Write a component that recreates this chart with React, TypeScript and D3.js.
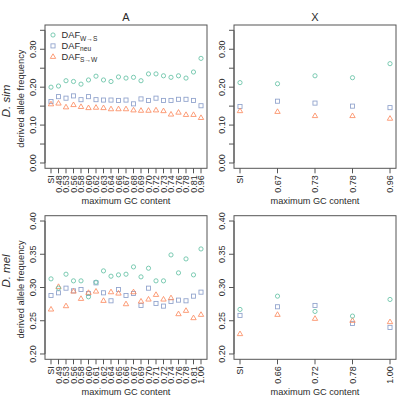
import React from "react";
import * as d3 from "d3";

// ---- D. simulans, autosomes (A)
const simACats = ["SI", "0.48", "0.53", "0.56", "0.58", "0.60", "0.62", "0.63", "0.64", "0.66", "0.67", "0.68", "0.69", "0.70", "0.72", "0.73", "0.74", "0.76", "0.78", "0.81", "0.96"];
const simAWS = [0.200, 0.203, 0.217, 0.215, 0.208, 0.219, 0.229, 0.219, 0.215, 0.227, 0.224, 0.226, 0.217, 0.235, 0.235, 0.230, 0.226, 0.230, 0.224, 0.240, 0.276];
const simANeu = [0.162, 0.175, 0.171, 0.177, 0.167, 0.175, 0.167, 0.166, 0.166, 0.165, 0.166, 0.156, 0.169, 0.165, 0.171, 0.165, 0.165, 0.168, 0.168, 0.165, 0.151];
const simASW = [0.155, 0.157, 0.147, 0.153, 0.148, 0.145, 0.146, 0.145, 0.142, 0.142, 0.142, 0.139, 0.138, 0.138, 0.139, 0.137, 0.128, 0.133, 0.127, 0.127, 0.119];

// ---- D. simulans, X chromosome
const simXCats = ["SI", "0.67", "0.73", "0.78", "0.96"];
const simXWS = [0.212, 0.209, 0.230, 0.225, 0.262];
const simXNeu = [0.149, 0.163, 0.158, 0.150, 0.146];
const simXSW = [0.137, 0.135, 0.124, 0.124, 0.117];

// ---- D. melanogaster, autosomes (A)
const melACats = ["SI", "0.49", "0.53", "0.56", "0.58", "0.60", "0.61", "0.62", "0.64", "0.65", "0.66", "0.67", "0.69", "0.70", "0.71", "0.72", "0.74", "0.76", "0.78", "0.81", "1.00"];
const melAWS = [0.313, 0.299, 0.320, 0.310, 0.310, 0.286, 0.308, 0.325, 0.317, 0.319, 0.320, 0.331, 0.316, 0.329, 0.310, 0.310, 0.349, 0.322, 0.343, 0.319, 0.358];
const melANeu = [0.288, 0.292, 0.299, 0.295, 0.297, 0.291, 0.307, 0.292, 0.280, 0.297, 0.288, 0.291, 0.273, 0.299, 0.276, 0.272, 0.279, 0.281, 0.280, 0.287, 0.293];
const melASW = [0.267, 0.301, 0.272, 0.294, 0.283, 0.292, 0.294, 0.280, 0.293, 0.291, 0.275, 0.293, 0.279, 0.282, 0.289, 0.282, 0.284, 0.260, 0.265, 0.254, 0.259];

// ---- D. melanogaster, X chromosome
const melXCats = ["SI", "0.66", "0.72", "0.78", "1.00"];
const melXWS = [0.267, 0.287, 0.264, 0.257, 0.282];
const melXNeu = [0.258, 0.271, 0.273, 0.246, 0.240];
const melXSW = [0.230, 0.259, 0.253, 0.250, 0.248];

// ---- axis ticks
const simYTicks = [0, 0.05, 0.1, 0.15, 0.2, 0.25, 0.3, 0.35];
const simYLabelled = [0, 0.1, 0.2, 0.3];
const melYTicks = [0.2, 0.25, 0.3, 0.35, 0.4];
const melYLabelled = [0.2, 0.25, 0.3, 0.35, 0.4];

const colTitles = ["A", "X"];
const rowTitles = ["D. sim", "D. mel"];
const legendSubs = ["W\u2192S", "neu", "S\u2192W"];

const GREEN = "#66c2a5";
const BLUE = "#8da0cb";
const ORANGE = "#fc8d62";
const INK = "#2b2b2b";
const FONT = "'Liberation Sans', Arial, Helvetica, sans-serif";

const COLS = [
  { x0: 45, x1: 207 },
  { x0: 234, x1: 396 },
];
const ROWS = [
  { y0: 25, y1: 168.3 },
  { y0: 215.7, y1: 359.3 },
];

type Kind = "circle" | "square" | "triangle";

function Marker({ kind, cx, cy, color }: { kind: Kind; cx: number; cy: number; color: string }) {
  const common = { fill: "none", stroke: color, strokeWidth: 0.85 };
  if (kind === "circle") return <circle cx={cx} cy={cy} r={2.1} {...common} />;
  if (kind === "square") return <rect x={cx - 2.05} y={cy - 2.05} width={4.1} height={4.1} {...common} />;
  const d = `M${cx},${cy - 3.0}L${cx + 2.7},${cy + 1.6}L${cx - 2.7},${cy + 1.6}Z`;
  return <path d={d} {...common} />;
}

function Panel(props: {
  col: number;
  row: number;
  cats: string[];
  ws: number[];
  neu: number[];
  sw: number[];
  yLim: [number, number];
  yTicks: number[];
  yLabelled: number[];
}) {
  const { col, row, cats, ws, neu, sw, yLim, yTicks, yLabelled } = props;
  const { x0, x1 } = COLS[col];
  const { y0, y1 } = ROWS[row];
  const n = cats.length;
  const xpad = 0.04 * (n - 1);
  const x = d3.scaleLinear().domain([-xpad, n - 1 + xpad]).range([x0, x1]);
  const span = yLim[1] - yLim[0];
  const y = d3
    .scaleLinear()
    .domain([yLim[0] - 0.04 * span, yLim[1] + 0.04 * span])
    .range([y1, y0]);
  const fmt = d3.format(".2f");

  const series: { vals: number[]; kind: Kind; color: string }[] = [
    { vals: neu, kind: "square", color: BLUE },
    { vals: sw, kind: "triangle", color: ORANGE },
    { vals: ws, kind: "circle", color: GREEN },
  ];

  return (
    <g>
      {/* plot box */}
      <rect x={x0} y={y0} width={x1 - x0} height={y1 - y0} fill="none" stroke="#555" strokeWidth={1} />

      {/* y axis */}
      <line x1={x0} x2={x0} y1={y(yTicks[0])} y2={y(yTicks[yTicks.length - 1])} stroke="#555" strokeWidth={1} />
      {yTicks.map((t) => (
        <line key={"yt" + t} x1={x0 - 5} x2={x0} y1={y(t)} y2={y(t)} stroke="#555" strokeWidth={1} />
      ))}
      {yLabelled.map((t) => (
        <text
          key={"yl" + t}
          transform={`translate(${x0 - 9},${y(t)}) rotate(-90)`}
          textAnchor="middle"
          fontSize={9}
          fill={INK}
          fontFamily={FONT}
        >
          {fmt(t)}
        </text>
      ))}

      {/* x axis */}
      {cats.map((c, i) => (
        <g key={"xt" + i}>
          <line x1={x(i)} x2={x(i)} y1={y1} y2={y1 + 5} stroke="#555" strokeWidth={1} />
          <text
            transform={`translate(${x(i)},${y1 + 7}) rotate(-90)`}
            textAnchor="end"
            dy="0.35em"
            fontSize={9}
            fill={INK}
            fontFamily={FONT}
          >
            {c}
          </text>
        </g>
      ))}
      <text
        x={(x0 + x1) / 2}
        y={y1 + 35.5}
        textAnchor="middle"
        fontSize={9.2}
        fill={INK}
        fontFamily={FONT}
      >
        maximum GC content
      </text>

      {/* points */}
      {series.map((s, si) =>
        s.vals.map((v, i) => <Marker key={`p${si}-${i}`} kind={s.kind} cx={x(i)} cy={y(v)} color={s.color} />)
      )}
    </g>
  );
}

function Legend({ x0, y0 }: { x0: number; y0: number }) {
  const kinds: Kind[] = ["circle", "square", "triangle"];
  const colors = [GREEN, BLUE, ORANGE];
  return (
    <g>
      {legendSubs.map((sub, i) => {
        const cy = y0 + i * 10.9;
        return (
          <g key={"lg" + i}>
            <Marker kind={kinds[i]} cx={x0} cy={cy} color={colors[i]} />
            <text x={x0 + 8.5} y={cy + 3.3} fontSize={9.3} fill={INK} fontFamily={FONT}>
              DAF
              <tspan fontSize={6.6} dy={2.2}>
                {sub}
              </tspan>
            </text>
          </g>
        );
      })}
    </g>
  );
}

export default function App() {
  return (
    <svg
      width={400}
      height={398}
      viewBox="0 0 400 398"
      style={{ position: "absolute", left: 0, top: 0, background: "#fff" }}
    >
      <rect x={0} y={0} width={400} height={398} fill="#fff" />

      {colTitles.map((t, i) => (
        <text
          key={"ct" + i}
          x={(COLS[i].x0 + COLS[i].x1) / 2}
          y={20.5}
          textAnchor="middle"
          fontSize={11}
          fill={INK}
          fontFamily={FONT}
        >
          {t}
        </text>
      ))}

      {[101, 271].map((cy, i) => (
        <text
          key={"rt" + i}
          transform={`translate(10,${cy}) rotate(-90)`}
          textAnchor="middle"
          fontSize={11.5}
          fontStyle="italic"
          fill={INK}
          fontFamily={FONT}
        >
          {rowTitles[i]}
        </text>
      ))}

      {ROWS.map((r, i) => (
        <text
          key={"ya" + i}
          transform={`translate(24,${(r.y0 + r.y1) / 2 + 2}) rotate(-90)`}
          textAnchor="middle"
          fontSize={9.3}
          fill={INK}
          fontFamily={FONT}
        >
          derived allele frequency
        </text>
      ))}

      <Panel col={0} row={0} cats={simACats} ws={simAWS} neu={simANeu} sw={simASW} yLim={[0, 0.35]} yTicks={simYTicks} yLabelled={simYLabelled} />
      <Panel col={1} row={0} cats={simXCats} ws={simXWS} neu={simXNeu} sw={simXSW} yLim={[0, 0.35]} yTicks={simYTicks} yLabelled={simYLabelled} />
      <Panel col={0} row={1} cats={melACats} ws={melAWS} neu={melANeu} sw={melASW} yLim={[0.2, 0.4]} yTicks={melYTicks} yLabelled={melYLabelled} />
      <Panel col={1} row={1} cats={melXCats} ws={melXWS} neu={melXNeu} sw={melXSW} yLim={[0.2, 0.4]} yTicks={melYTicks} yLabelled={melYLabelled} />

      <Legend x0={53} y0={35} />
    </svg>
  );
}
